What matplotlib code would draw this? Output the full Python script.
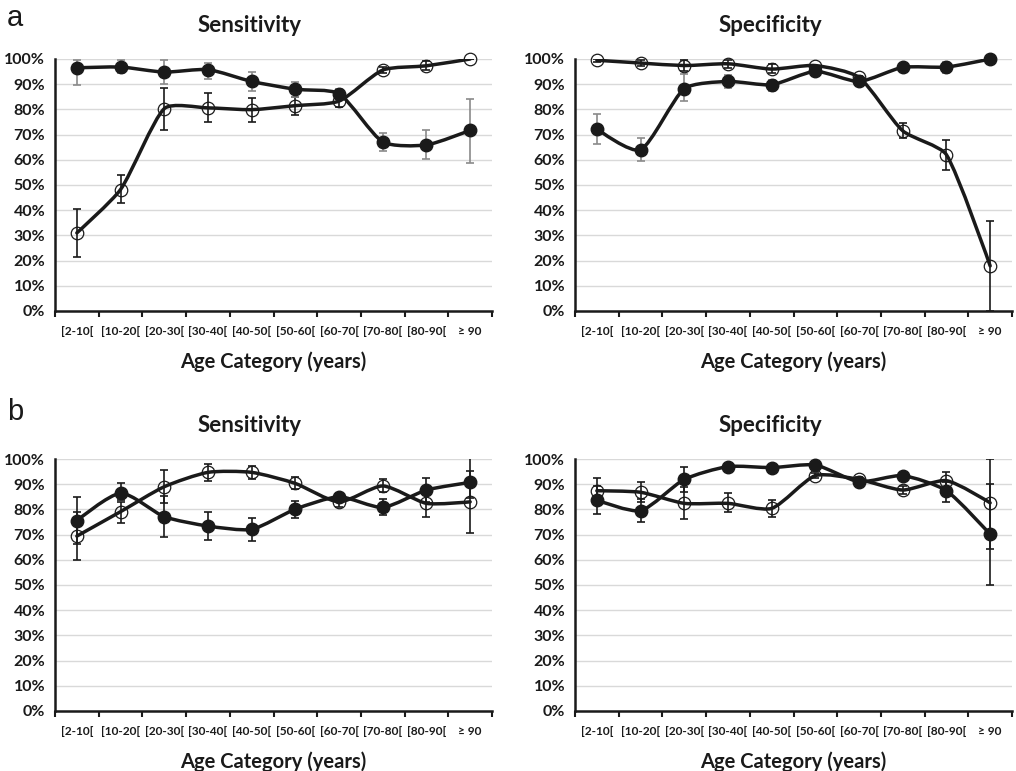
import numpy as np
import matplotlib.pyplot as plt
from matplotlib.path import Path
from matplotlib.patches import PathPatch

# Age categories shared by all four panels
categories = ['[2-10[', '[10-20[', '[20-30[', '[30-40[', '[40-50[',
              '[50-60[', '[60-70[', '[70-80[', '[80-90[', '\u2265 90']

# Panel a - Sensitivity (values and error bounds in %)
a_sens_filled = [96.5, 96.8, 94.8, 95.8, 91.1, 88.0, 86.2, 67.1, 65.9, 71.7]
a_sens_filled_low = [89.7, 94.3, 90.0, 92.1, 87.4, 85.0, 84.0, 63.5, 60.3, 58.9]
a_sens_filled_high = [99.6, 99.6, 99.6, 98.5, 94.7, 91.0, 88.0, 70.5, 71.8, 84.1]
a_sens_open = [31.0, 48.2, 80.3, 80.6, 79.9, 81.5, 83.3, 95.6, 97.3, 100.0]
a_sens_open_low = [21.4, 42.7, 72.0, 74.9, 75.0, 77.8, 81.1, 94.5, 95.8, 100.0]
a_sens_open_high = [40.6, 53.8, 88.5, 86.4, 84.4, 85.1, 85.7, 97.0, 99.3, 100.0]

# Panel a - Specificity
a_spec_filled = [72.3, 64.0, 88.2, 91.1, 89.8, 95.1, 91.1, 96.7, 96.8, 100.0]
a_spec_filled_low = [66.2, 59.6, 83.2, 88.5, 87.5, 93.4, 89.8, 94.7, 94.4, 100.0]
a_spec_filled_high = [78.3, 68.6, 94.2, 93.8, 91.8, 96.4, 92.8, 98.0, 98.7, 100.0]
a_spec_open = [99.5, 98.4, 97.4, 98.1, 96.0, 97.4, 92.7, 71.5, 62.0, 17.9]
a_spec_open_low = [99.0, 97.1, 95.1, 96.4, 94.3, 97.4, 92.0, 68.6, 55.8, 0.0]
a_spec_open_high = [100.0, 99.7, 99.7, 99.7, 97.9, 97.4, 93.4, 74.6, 67.9, 35.9]

# Panel b - Sensitivity
b_sens_filled = [75.5, 86.4, 77.1, 73.4, 72.1, 80.1, 85.0, 80.8, 87.7, 90.7]
b_sens_filled_low = [66.2, 83.7, 69.1, 67.8, 67.4, 76.7, 83.5, 77.6, 83.0, 84.5]
b_sens_filled_high = [84.8, 90.3, 85.3, 79.1, 76.7, 83.3, 86.4, 84.0, 92.5, 103.0]
b_sens_open = [69.4, 79.1, 89.0, 94.7, 94.7, 90.3, 83.0, 89.3, 82.4, 83.0]
b_sens_open_low = [59.9, 74.7, 82.4, 91.4, 92.2, 87.9, 80.8, 87.0, 77.1, 70.5]
b_sens_open_high = [79.1, 83.0, 95.6, 98.0, 97.2, 92.7, 85.0, 91.9, 87.7, 95.4]

# Panel b - Specificity
b_spec_filled = [83.7, 79.5, 91.9, 97.0, 96.6, 97.6, 91.0, 93.4, 87.4, 70.1]
b_spec_filled_low = [78.0, 75.1, 87.0, 96.0, 95.6, 96.6, 89.8, 92.4, 83.0, 50.0]
b_spec_filled_high = [89.4, 84.0, 96.7, 98.0, 97.6, 98.6, 92.2, 94.4, 91.0, 90.1]
b_spec_open = [87.4, 86.8, 82.4, 82.4, 80.4, 93.4, 91.9, 87.7, 91.4, 82.6]
b_spec_open_low = [82.2, 83.0, 76.0, 78.8, 76.8, 92.4, 90.8, 86.0, 88.0, 64.2]
b_spec_open_high = [92.6, 90.7, 88.7, 86.6, 83.7, 94.4, 93.0, 89.4, 94.7, 100.0]

plt.rcParams['font.family'] = ['Lato', 'DejaVu Sans']
plt.rcParams['font.weight'] = 'bold'

BLACK = '#1a1a1a'
GRAY = '#8a8a8a'
PX = 1016
PY = 771
AX_W = 437
AX_H = 252


def smooth_line(ax, x, y, **kw):
    # Excel-like smoothed line: cubic Bezier with soft Catmull-Rom handles,
    # each handle limited to a share of its segment so nothing overshoots much
    sx = AX_W / len(x)
    sy = AX_H / 100.0
    pts = np.column_stack([np.asarray(x) * sx, np.asarray(y) * sy]).astype(float)
    n = len(pts)
    seg = np.hypot(*np.diff(pts, axis=0).T)
    c_out = pts.copy()
    c_in = pts.copy()
    for i in range(1, n - 1):
        t = (pts[i + 1] - pts[i - 1]) / 8.0
        tl = np.hypot(*t)
        if tl == 0:
            continue
        u = t / tl
        c_out[i] = pts[i] + u * min(tl, 0.22 * seg[i])
        c_in[i] = pts[i] - u * min(tl, 0.22 * seg[i - 1])
    verts = [pts[0]]
    codes = [Path.MOVETO]
    for i in range(n - 1):
        verts += [c_out[i], c_in[i + 1], pts[i + 1]]
        codes += [Path.CURVE4] * 3
    verts = np.array(verts) / [sx, sy]
    ax.add_patch(PathPatch(Path(verts, codes), facecolor='none', edgecolor=BLACK,
                           lw=2.5, capstyle='round', joinstyle='round', **kw))


def series(ax, vals, low, high, filled, ecolor):
    x = np.arange(len(vals))
    vals = np.array(vals)
    err = [vals - np.array(low), np.array(high) - vals]
    smooth_line(ax, x, vals, zorder=3 if filled else 2)
    ax.errorbar(x, vals, yerr=err, fmt='none', ecolor=ecolor, elinewidth=1.2,
                capsize=3, capthick=1.2, zorder=4)
    if filled:
        ax.plot(x, vals, 'o', ms=9, mfc=BLACK, mec=BLACK, zorder=5, clip_on=False)
    else:
        ax.plot(x, vals, 'o', ms=9, mfc='none', mec=BLACK, mew=0.9, zorder=5, clip_on=False)


def make_panel(left, top, title, filled, open_, err_filled_color):
    ax = fig.add_axes([left / PX, 1 - (top + AX_H) / PY, AX_W / PX, AX_H / PY])
    series(ax, open_[0], open_[1], open_[2], False, BLACK)
    series(ax, filled[0], filled[1], filled[2], True, err_filled_color)
    ax.set_xlim(-0.5, len(categories) - 0.5)
    ax.set_ylim(0, 100)
    ax.set_yticks(np.arange(0, 101, 10))
    ax.set_yticklabels([f'{v}%' for v in range(0, 101, 10)], fontsize=11.5, fontweight='bold', color=BLACK)
    ax.set_xticks(np.arange(len(categories)))
    ax.set_xticklabels(categories, fontsize=8.6, fontweight='bold', color=BLACK)
    ax.set_xticks(np.arange(-0.5, len(categories), 1), minor=True)
    ax.tick_params(axis='x', which='major', length=0, pad=11)
    ax.tick_params(axis='x', which='minor', length=4, width=1.5, color=BLACK, direction='out')
    ax.tick_params(axis='y', length=0, pad=7)
    ax.yaxis.grid(True, color='#d9d9d9', lw=1)
    ax.set_axisbelow(True)
    for s in ['top', 'right']:
        ax.spines[s].set_visible(False)
    for s in ['left', 'bottom']:
        ax.spines[s].set_linewidth(1.8)
        ax.spines[s].set_color(BLACK)
    ax.set_xlabel('Age Category (years)', fontsize=14.5, fontweight='bold', color=BLACK, labelpad=10)
    tx = 250 if left < 500 else 770
    fig.text(tx / PX, 1 - (top - 33) / PY, title,
             ha='center', va='center', fontsize=16, fontweight='bold', color=BLACK)
    return ax


fig = plt.figure(figsize=(PX / 100, PY / 100), dpi=100)

make_panel(55, 59, 'Sensitivity',
           (a_sens_filled, a_sens_filled_low, a_sens_filled_high),
           (a_sens_open, a_sens_open_low, a_sens_open_high), GRAY)
make_panel(575, 59, 'Specificity',
           (a_spec_filled, a_spec_filled_low, a_spec_filled_high),
           (a_spec_open, a_spec_open_low, a_spec_open_high), GRAY)
make_panel(55, 459, 'Sensitivity',
           (b_sens_filled, b_sens_filled_low, b_sens_filled_high),
           (b_sens_open, b_sens_open_low, b_sens_open_high), BLACK)
make_panel(575, 459, 'Specificity',
           (b_spec_filled, b_spec_filled_low, b_spec_filled_high),
           (b_spec_open, b_spec_open_low, b_spec_open_high), BLACK)

fig.text(7 / PX, 1 - 18 / PY, 'a', fontsize=21, fontweight='normal', family='Liberation Sans',
         ha='left', va='center', color=BLACK)
fig.text(7 / PX, 1 - 412 / PY, 'b', fontsize=21, fontweight='normal', family='Liberation Sans',
         ha='left', va='center', color=BLACK)

fig.savefig('out.png', dpi=100)
